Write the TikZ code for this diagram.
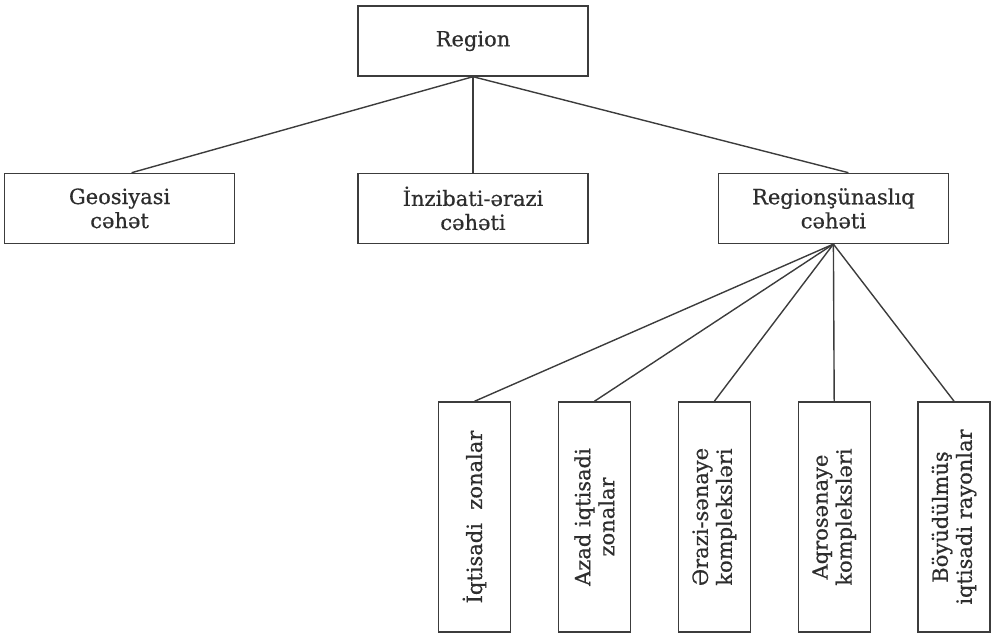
\documentclass[tikz,border=0pt]{standalone}
\usepackage{fontspec}
\setmainfont{DejaVu Serif}[FakeBold=0.6]
\definecolor{inkgray}{RGB}{45,45,45}
\definecolor{rulegray}{RGB}{60,60,60}
\usetikzlibrary{positioning}

\begin{document}
\begin{tikzpicture}[
    hbox/.style={draw=rulegray, line width=1.4pt, minimum width=230pt, minimum height=70pt,
                 inner sep=2pt, align=center, text=inkgray, font=\fontsize{21}{24}\selectfont},
    vbox/.style={hbox, minimum width=230pt, minimum height=72pt, rotate=90},
    link/.style={draw=rulegray, line width=1.4pt}]
  \useasboundingbox (0,0) rectangle (993pt,-634pt);
  \node[hbox] (region) at (473pt,-41pt) {Region};
  \node[hbox, below=96pt of region] (admin) {İnzibati-ərazi\\cəhəti};
  \node[hbox, left=122pt of admin] (geo) {Geosiyasi\\cəhət};
  \node[hbox, right=129pt of admin] (regsci) {Regionşünaslıq\\cəhəti};
  \foreach \txt [count=\i] in {{İqtisadi\ \ zonalar}, {Azad iqtisadi\\zonalar},
      {Ərazi-sənaye\\kompleksləri}, {Aqrosənaye\\kompleksləri},
      {Böyüdülmüş\\iqtisadi rayonlar}}
    \node[vbox] (v\i) at ({474.5pt+(\i-1)*119.9pt},-517pt) {\txt};
  \draw[link] (region.south) -- ([xshift=12pt]geo.north);
  \draw[link] (region.south) -- (admin.north);
  \draw[link] (region.south) -- ([xshift=15pt]regsci.north);
  \foreach \i in {1,...,5}
    \draw[link] (regsci.south) -- (v\i.east);
\end{tikzpicture}
\end{document}
